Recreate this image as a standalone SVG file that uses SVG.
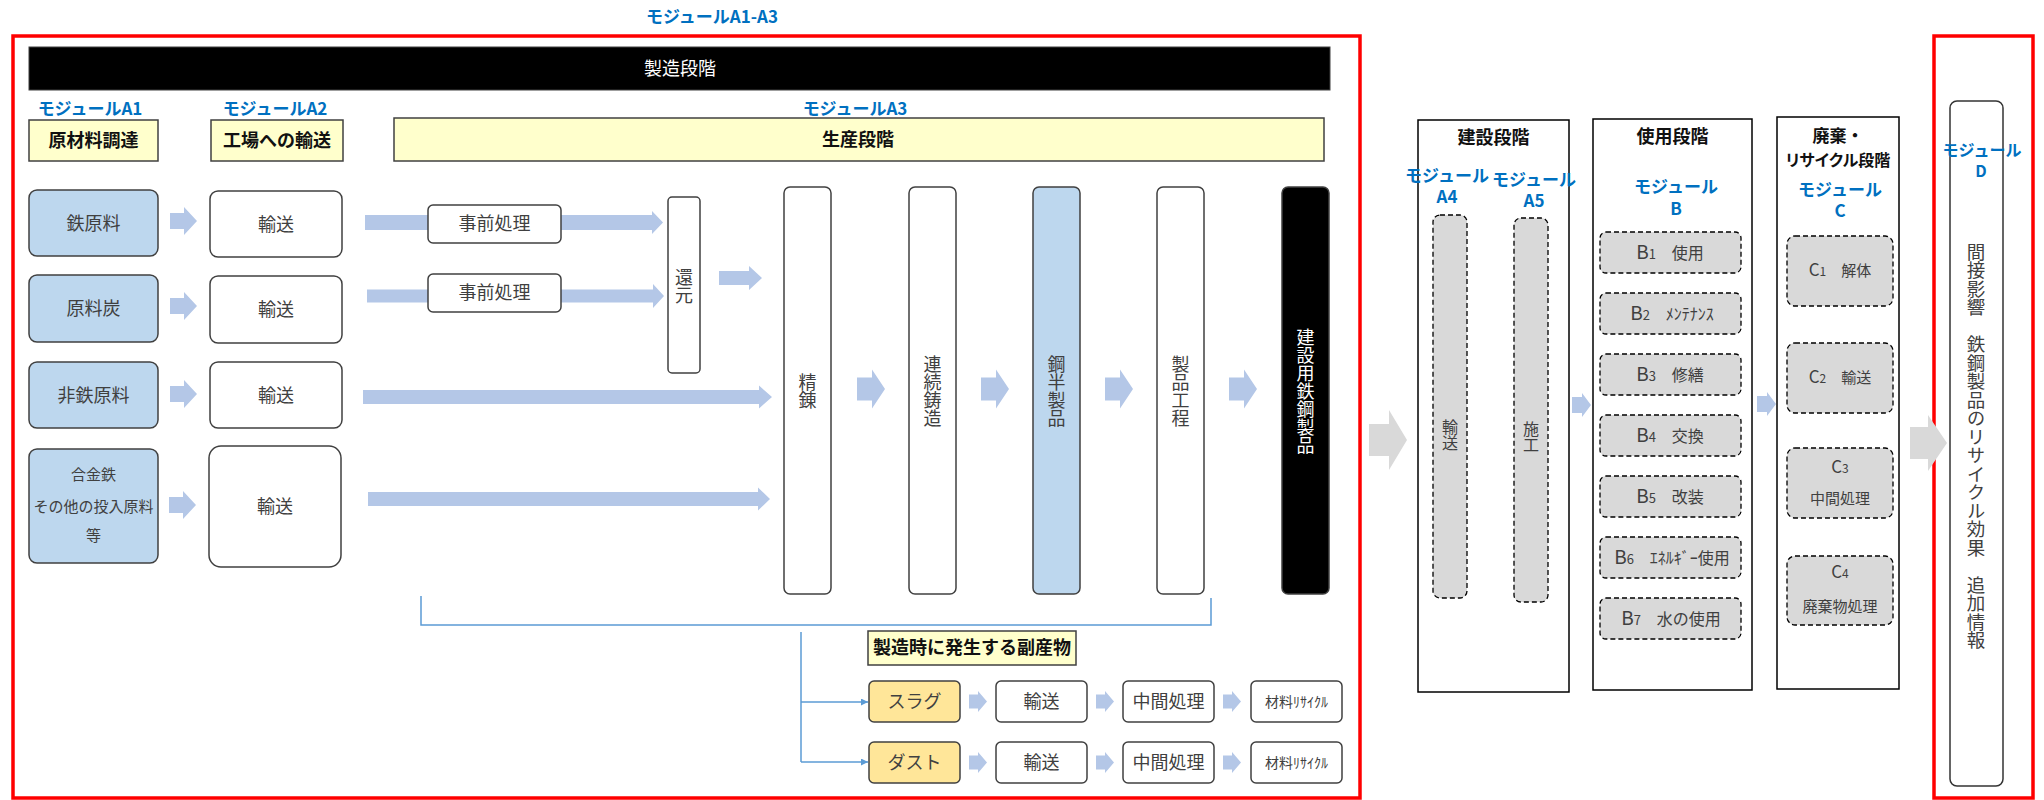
<svg xmlns="http://www.w3.org/2000/svg" width="2044" height="800" viewBox="0 0 2044 800">
<defs>
<style>
.t{font-family:"Noto Sans CJK JP","Noto Sans",sans-serif;fill:#404040;text-anchor:middle;font-size:18px}
.b{font-weight:bold;fill:#111}
.mod{font-family:"Noto Sans CJK JP","Noto Sans",sans-serif;fill:#0070C0;font-weight:bold;font-size:17px;text-anchor:middle}
.vt{writing-mode:vertical-rl}
.box{fill:#fff;stroke:#404040;stroke-width:1.5}
.blue{fill:#BDD7EE;stroke:#404040;stroke-width:1.5}
.hdr{fill:#FFFFCC;stroke:#404040;stroke-width:1.5}
.org{fill:#FFE699;stroke:#404040;stroke-width:1.5}
.blk{fill:#000;stroke:#404040;stroke-width:1.5}
.pnl{fill:#fff;stroke:#000;stroke-width:1.5}
.dash{fill:#D9D9D9;stroke:#000;stroke-width:1.3;stroke-dasharray:5 3}
.red{fill:none;stroke:#FF0000;stroke-width:3.5}
.arr{fill:#B4C7E7}
.garr{fill:#D9D9D9}
.ln{fill:none;stroke:#5B9BD5;stroke-width:1.5}
</style>
<marker id="ah" viewBox="0 0 10 10" refX="10" refY="5" markerWidth="7" markerHeight="7" markerUnits="userSpaceOnUse" orient="auto"><path d="M0 0L10 5L0 10Z" fill="#5B9BD5"/></marker>
</defs>
<rect width="2044" height="800" fill="#fff"/>

<!-- frames -->
<g id="frameA">
<text class="mod" x="712" y="23">モジュールA1-A3</text>
<rect class="red" x="13" y="36" width="1347" height="762"/>
</g>
<g id="frameD">
<rect class="red" x="1934" y="36" width="99" height="762"/>
</g>

<!-- connectors -->
<g id="connectors">
<path class="arr" d="M170 213H184V207L197 221L184 235V229H170Z"/>
<path class="arr" d="M170 298H184V292L197 306L184 320V314H170Z"/>
<path class="arr" d="M170 386H184V380L197 394L184 408V402H170Z"/>
<path class="arr" d="M169 497H183V491L196 505L183 519V513H169Z"/>
<path class="arr" d="M365 215H652V211L663 222.5L652 234V230H365Z"/>
<path class="arr" d="M367 289.5H653V284L664 296L653 308V302.5H367Z"/>
<path class="arr" d="M363 390H759V385.5L772 397L759 408.5V404H363Z"/>
<path class="arr" d="M368 492H758V487.5L770 499L758 510.5V506H368Z"/>
<path class="arr" d="M719 271H749V266L762 278L749 290V285H719Z"/>
<path class="arr" d="M857 377.5H872V369.5L885 389L872 408.5V400.5H857Z"/>
<path class="arr" d="M981 377.5H996V369.5L1009 389L996 408.5V400.5H981Z"/>
<path class="arr" d="M1105 377.5H1120V369.5L1133 389L1120 408.5V400.5H1105Z"/>
<path class="arr" d="M1229 377.5H1244V369.5L1257 389L1244 408.5V400.5H1229Z"/>
<path class="ln" d="M421 596V625H1211V598"/>
<path class="ln" d="M801 632V762"/>
<path class="ln" d="M801 702H868" marker-end="url(#ah)"/>
<path class="ln" d="M801 762H868" marker-end="url(#ah)"/>
<path class="arr" d="M969 694.5H978V691L987 701.5L978 712V708.5H969Z"/>
<path class="arr" d="M1096 694.5H1105V691L1114 701.5L1105 712V708.5H1096Z"/>
<path class="arr" d="M1223 694.5H1232V691L1241 701.5L1232 712V708.5H1223Z"/>
<path class="arr" d="M969 755.5H978V752L987 762.5L978 773V769.5H969Z"/>
<path class="arr" d="M1096 755.5H1105V752L1114 762.5L1105 773V769.5H1096Z"/>
<path class="arr" d="M1223 755.5H1232V752L1241 762.5L1232 773V769.5H1223Z"/>
<path class="garr" d="M1369 424H1389V410L1407 440L1389 470V456H1369Z"/>
<path class="garr" d="M1910 427H1928V415L1947 443L1928 471V459H1910Z"/>
<path class="arr" d="M1487 396H1497V392L1506 404L1497 416V412H1487Z"/>
<path class="arr" d="M1572 397H1582V393L1591 405L1582 417V413H1572Z"/>
<path class="arr" d="M1757 396H1767V392L1776 404L1767 416V412H1757Z"/>
<path class="arr" d="M1665 275H1675V283H1679L1670 291L1661 283H1665Z"/>
<path class="arr" d="M1665 335H1675V343H1679L1670 351L1661 343H1665Z"/>
<path class="arr" d="M1665 397H1675V405H1679L1670 413L1661 405H1665Z"/>
<path class="arr" d="M1665 457H1675V465H1679L1670 473L1661 465H1665Z"/>
<path class="arr" d="M1665 519H1675V527H1679L1670 535L1661 527H1665Z"/>
<path class="arr" d="M1665 580H1675V588H1679L1670 596L1661 588H1665Z"/>
<path class="arr" d="M1830 311H1848V323H1854L1839 338L1823 323H1830Z"/>
<path class="arr" d="M1830 417H1848V429H1854L1839 444L1823 429H1830Z"/>
<path class="arr" d="M1830 523H1848V535H1854L1839 550L1823 535H1830Z"/>
</g>

<!-- header -->
<g id="stage-bar">
<rect x="29" y="47" width="1301" height="43" fill="#000" stroke="#404040"/>
<text class="t" x="680" y="75" style="fill:#fff">製造段階</text>
</g>
<g id="hdr-a1">
<text class="mod" x="90" y="115">モジュールA1</text>
<rect class="hdr" x="29" y="120" width="129" height="41"/>
<text class="t b" x="93.5" y="147">原材料調達</text>
</g>
<g id="hdr-a2">
<text class="mod" x="275" y="115">モジュールA2</text>
<rect class="hdr" x="211" y="120" width="132" height="41"/>
<text class="t b" x="277" y="147">工場への輸送</text>
</g>
<g id="hdr-a3">
<text class="mod" x="855" y="115">モジュールA3</text>
<rect class="hdr" x="394" y="118" width="930" height="43"/>
<text class="t b" x="858" y="146">生産段階</text>
</g>

<!-- raw materials -->
<g id="n-iron"><rect class="blue" x="29" y="190" width="129" height="66" rx="8"/><text class="t" x="93.5" y="230">鉄原料</text></g>
<g id="n-coal"><rect class="blue" x="29" y="275" width="129" height="67" rx="8"/><text class="t" x="93.5" y="315">原料炭</text></g>
<g id="n-nonferrous"><rect class="blue" x="29" y="362" width="129" height="66" rx="8"/><text class="t" x="93.5" y="402">非鉄原料</text></g>
<g id="n-alloy"><rect class="blue" x="29" y="449" width="129" height="114" rx="8"/>
<text class="t" x="93.5" y="480" style="font-size:15px">合金鉄</text>
<text class="t" x="93.5" y="512" style="font-size:15px">その他の投入原料</text>
<text class="t" x="93.5" y="541" style="font-size:15px">等</text></g>

<!-- transport -->
<g id="n-tr1"><rect class="box" x="210" y="191" width="132" height="66" rx="8"/><text class="t" x="276" y="231">輸送</text></g>
<g id="n-tr2"><rect class="box" x="210" y="276" width="132" height="67" rx="8"/><text class="t" x="276" y="316">輸送</text></g>
<g id="n-tr3"><rect class="box" x="210" y="362" width="132" height="66" rx="8"/><text class="t" x="276" y="402">輸送</text></g>
<g id="n-tr4"><rect class="box" x="209" y="446" width="132" height="121" rx="12"/><text class="t" x="275" y="513">輸送</text></g>

<!-- production -->
<g id="n-pre1"><rect class="box" x="428" y="205" width="133" height="38" rx="5"/><text class="t" x="494.5" y="230">事前処理</text></g>
<g id="n-pre2"><rect class="box" x="428" y="274" width="133" height="38" rx="5"/><text class="t" x="494.5" y="299">事前処理</text></g>
<g id="n-reduce"><rect class="box" x="668" y="197" width="32" height="176" rx="4"/><text class="t vt" x="684" y="286">還元</text></g>
<g id="n-refine"><rect class="box" x="784" y="187" width="47" height="407" rx="6"/><text class="t vt" x="807.5" y="391">精錬</text></g>
<g id="n-cast"><rect class="box" x="909" y="187" width="47" height="407" rx="6"/><text class="t vt" x="932.5" y="391">連続鋳造</text></g>
<g id="n-semi"><rect class="blue" x="1033" y="187" width="47" height="407" rx="6"/><text class="t vt" x="1056.5" y="391">鋼半製品</text></g>
<g id="n-product"><rect class="box" x="1157" y="187" width="47" height="407" rx="6"/><text class="t vt" x="1180.5" y="391">製品工程</text></g>
<g id="n-steel"><rect class="blk" x="1282" y="187" width="47" height="407" rx="6"/><text class="t vt" x="1305.5" y="391" style="fill:#fff">建設用鉄鋼製品</text></g>

<!-- by-products -->
<g id="n-byprod"><rect class="hdr" x="868" y="631" width="208" height="34"/><text class="t b" x="972" y="654">製造時に発生する副産物</text></g>
<g id="n-slag"><rect class="org" x="869" y="681" width="91" height="41" rx="5"/><text class="t" x="914.5" y="708">スラグ</text></g>
<g id="n-slag-tr"><rect class="box" x="996" y="681" width="91" height="41" rx="5"/><text class="t" x="1041.5" y="708">輸送</text></g>
<g id="n-slag-mid"><rect class="box" x="1123" y="681" width="91" height="41" rx="5"/><text class="t" x="1168.5" y="708">中間処理</text></g>
<g id="n-slag-rec"><rect class="box" x="1251" y="681" width="91" height="41" rx="5"/><text class="t" x="1296.5" y="707" style="font-size:14px">材料ﾘｻｲｸﾙ</text></g>
<g id="n-dust"><rect class="org" x="869" y="742" width="91" height="41" rx="5"/><text class="t" x="914.5" y="769">ダスト</text></g>
<g id="n-dust-tr"><rect class="box" x="996" y="742" width="91" height="41" rx="5"/><text class="t" x="1041.5" y="769">輸送</text></g>
<g id="n-dust-mid"><rect class="box" x="1123" y="742" width="91" height="41" rx="5"/><text class="t" x="1168.5" y="769">中間処理</text></g>
<g id="n-dust-rec"><rect class="box" x="1251" y="742" width="91" height="41" rx="5"/><text class="t" x="1296.5" y="768" style="font-size:14px">材料ﾘｻｲｸﾙ</text></g>

<!-- construction stage -->
<g id="p-construction">
<rect class="pnl" x="1418" y="120" width="151" height="572"/>
<text class="t b" x="1493.5" y="144">建設段階</text>
<text class="mod" x="1447" y="182">モジュール</text><text class="mod" x="1447" y="203">A4</text>
<text class="mod" x="1534" y="186">モジュール</text><text class="mod" x="1534" y="207">A5</text>
</g>
<g id="n-a4"><rect class="dash" x="1433" y="215" width="34" height="383" rx="7"/><text class="t vt" x="1450" y="435" style="font-size:16px">輸送</text></g>
<g id="n-a5"><rect class="dash" x="1514" y="218" width="34" height="384" rx="7"/><text class="t vt" x="1531" y="437" style="font-size:16px">施工</text></g>

<!-- use stage -->
<g id="p-use">
<rect class="pnl" x="1593" y="119" width="159" height="571"/>
<text class="t b" x="1672.5" y="143">使用段階</text>
<text class="mod" x="1676" y="193">モジュール</text><text class="mod" x="1676" y="215">B</text>
</g>
<g id="n-b1"><rect class="dash" x="1600" y="232" width="141" height="41" rx="6"/><text class="t" x="1670" y="259" style="font-size:16px"><tspan style="font-size:19px">B</tspan><tspan style="font-size:13px">1</tspan>　使用</text></g>
<g id="n-b2"><rect class="dash" x="1600" y="293" width="141" height="41" rx="6"/><text class="t" x="1672" y="320" style="font-size:16px"><tspan style="font-size:19px">B</tspan><tspan style="font-size:13px">2</tspan>　ﾒﾝﾃﾅﾝｽ</text></g>
<g id="n-b3"><rect class="dash" x="1600" y="354" width="141" height="41" rx="6"/><text class="t" x="1670" y="381" style="font-size:16px"><tspan style="font-size:19px">B</tspan><tspan style="font-size:13px">3</tspan>　修繕</text></g>
<g id="n-b4"><rect class="dash" x="1600" y="415" width="141" height="41" rx="6"/><text class="t" x="1670" y="442" style="font-size:16px"><tspan style="font-size:19px">B</tspan><tspan style="font-size:13px">4</tspan>　交換</text></g>
<g id="n-b5"><rect class="dash" x="1600" y="476" width="141" height="41" rx="6"/><text class="t" x="1670" y="503" style="font-size:16px"><tspan style="font-size:19px">B</tspan><tspan style="font-size:13px">5</tspan>　改装</text></g>
<g id="n-b6"><rect class="dash" x="1600" y="537" width="141" height="41" rx="6"/><text class="t" x="1672" y="564" style="font-size:16px"><tspan style="font-size:19px">B</tspan><tspan style="font-size:13px">6</tspan>　ｴﾈﾙｷﾞｰ使用</text></g>
<g id="n-b7"><rect class="dash" x="1600" y="598" width="141" height="41" rx="6"/><text class="t" x="1671" y="625" style="font-size:16px"><tspan style="font-size:19px">B</tspan><tspan style="font-size:13px">7</tspan>　水の使用</text></g>

<!-- end-of-life stage -->
<g id="p-eol">
<rect class="pnl" x="1777" y="117" width="122" height="572"/>
<text class="t b" x="1838" y="142" style="font-size:17px">廃棄・</text>
<text class="t b" x="1838" y="166" style="font-size:16px;font-feature-settings:'palt'">リサイクル段階</text>
<text class="mod" x="1840" y="196">モジュール</text><text class="mod" x="1840" y="217">C</text>
</g>
<g id="n-c1"><rect class="dash" x="1787" y="236" width="106" height="70" rx="8"/><text class="t" x="1840" y="276" style="font-size:15px"><tspan style="font-size:17px">C</tspan><tspan style="font-size:12px">1</tspan>　解体</text></g>
<g id="n-c2"><rect class="dash" x="1787" y="343" width="106" height="70" rx="8"/><text class="t" x="1840" y="383" style="font-size:15px"><tspan style="font-size:17px">C</tspan><tspan style="font-size:12px">2</tspan>　輸送</text></g>
<g id="n-c3"><rect class="dash" x="1787" y="448" width="106" height="70" rx="8"/><text class="t" x="1840" y="473" style="font-size:15px"><tspan style="font-size:17px">C</tspan><tspan style="font-size:12px">3</tspan></text><text class="t" x="1840" y="504" style="font-size:15px">中間処理</text></g>
<g id="n-c4"><rect class="dash" x="1787" y="556" width="106" height="69" rx="8"/><text class="t" x="1840" y="578" style="font-size:15px"><tspan style="font-size:17px">C</tspan><tspan style="font-size:12px">4</tspan></text><text class="t" x="1840" y="612" style="font-size:15px">廃棄物処理</text></g>

<!-- module D -->
<g id="n-d">
<rect class="box" x="1950" y="101" width="53" height="685" rx="7" style="stroke:#333"/>
<text class="mod" x="1982" y="156" style="font-size:16px">モジュール</text>
<text class="mod" x="1981" y="177" style="font-size:16px">D</text>
<text class="t vt" x="1976" y="446" style="font-size:18.5px">間接影響　鉄鋼製品のリサイクル効果　追加情報</text>
</g>
</svg>
